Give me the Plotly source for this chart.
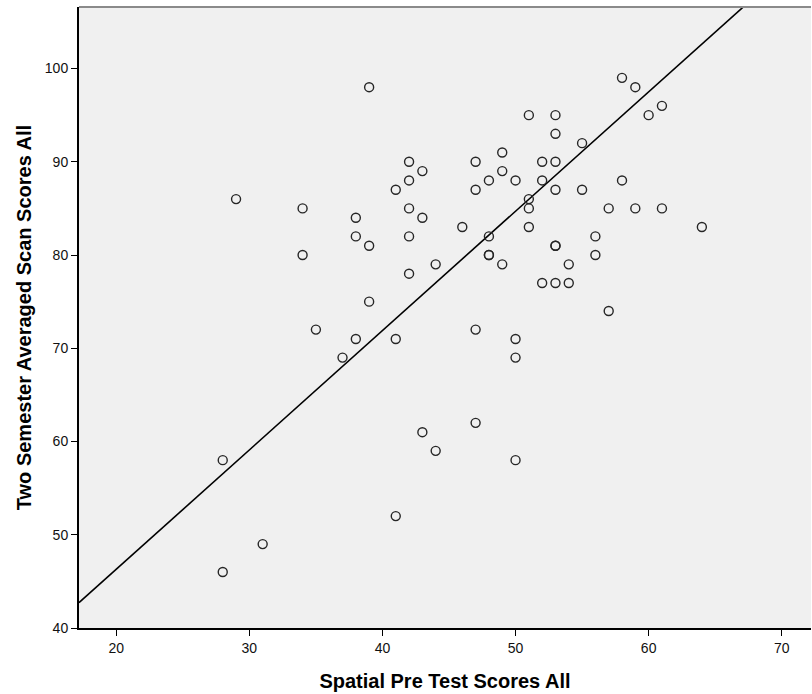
import numpy as np
import plotly.graph_objects as go

# Spatial pre-test score (x) and two-semester averaged scan score (y) per student
spatial_pre = [28, 28, 29, 31, 34, 34, 35, 37, 38, 38, 38, 39, 39, 39, 41, 41, 41,
               42, 42, 42, 42, 42, 43, 43, 43, 44, 44, 46, 47, 47, 47, 47,
               48, 48, 48, 48, 49, 49, 49, 50, 50, 50, 50, 51, 51, 51, 51,
               52, 52, 52, 53, 53, 53, 53, 53, 53, 53, 54, 54, 55, 55, 56, 56,
               57, 57, 58, 58, 59, 59, 60, 61, 61, 64]
scan_avg = [58, 46, 86, 49, 85, 80, 72, 69, 84, 82, 71, 98, 81, 75, 87, 71, 52,
            90, 88, 85, 82, 78, 89, 84, 61, 79, 59, 83, 90, 87, 72, 62,
            88, 82, 80, 80, 91, 89, 79, 88, 71, 69, 58, 95, 86, 85, 83,
            90, 88, 77, 95, 93, 90, 87, 81, 81, 77, 79, 77, 92, 87, 82, 80,
            85, 74, 99, 88, 98, 85, 95, 96, 85, 83]

x_ticks = [20, 30, 40, 50, 60, 70]
y_ticks = [40, 50, 60, 70, 80, 90, 100]
x_range = [17.2, 72.2]
y_range = [40, 106.6]

# Fit line parameters (y = intercept + slope * x)
fit_intercept = 20.7
fit_slope = 1.28
line_x = np.array(x_range)
line_y = fit_intercept + fit_slope * line_x

font_family = "Liberation Sans, Arial, sans-serif"

fig = go.Figure()
fig.add_trace(go.Scatter(
    x=line_x, y=line_y, mode="lines",
    line=dict(color="black", width=1.6),
    hoverinfo="skip", showlegend=False,
))
fig.add_trace(go.Scatter(
    x=spatial_pre, y=scan_avg, mode="markers",
    marker=dict(symbol="circle-open", size=9, color="#262626",
                line=dict(width=1.4, color="#262626")),
    showlegend=False,
))

fig.update_layout(
    width=812, height=694,
    margin=dict(l=79, r=1, t=7, b=66),
    paper_bgcolor="white",
    plot_bgcolor="#f0f0f0",
    font=dict(family=font_family, size=14, color="#111111"),
    xaxis=dict(
        range=x_range, tickvals=x_ticks, ticks="outside", ticklen=6,
        tickwidth=1, tickcolor="black", showgrid=False, zeroline=False,
        showline=True, linecolor="black", linewidth=2, mirror=False,
        automargin=False,
        title=dict(text="<b>Spatial Pre Test Scores All</b>",
                   font=dict(size=20, family=font_family, color="black"),
                   standoff=19),
        tickfont=dict(size=14),
    ),
    yaxis=dict(
        range=y_range, tickvals=y_ticks, ticks="outside", ticklen=6,
        tickwidth=1, tickcolor="black", showgrid=False, zeroline=False,
        showline=True, linecolor="black", linewidth=2, mirror=False,
        automargin=False,
        title=dict(text="<b>Two Semester Averaged Scan Scores All</b>",
                   font=dict(size=20, family=font_family, color="black"),
                   standoff=8),
        tickfont=dict(size=14),
    ),
    shapes=[
        dict(type="line", xref="paper", yref="paper", x0=0, x1=1, y0=1, y1=1,
             line=dict(color="#8a8a8a", width=2)),
    ],
)

fig.write_html("out.html")
